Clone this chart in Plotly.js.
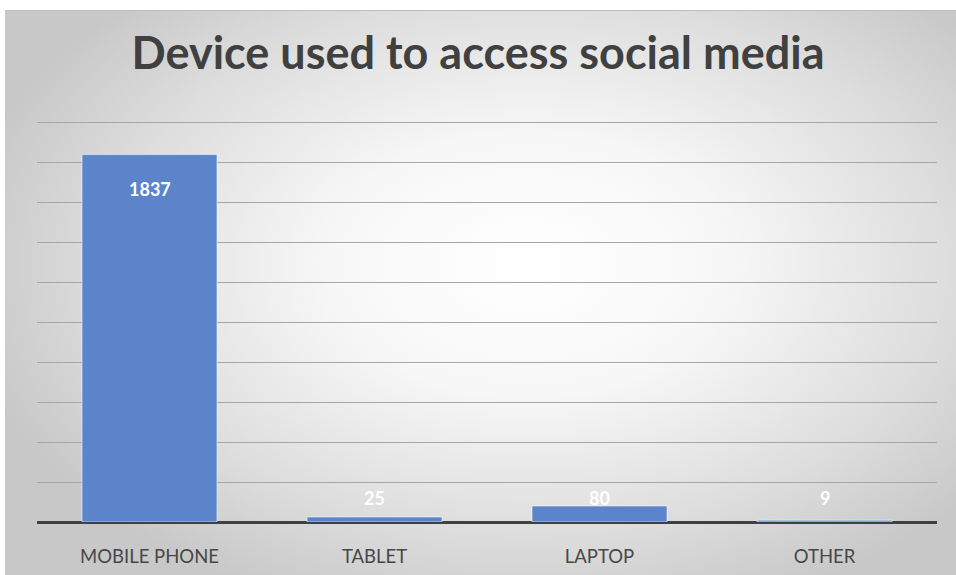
<!DOCTYPE html>
<html>
<head>
<meta charset="utf-8">
<script src="https://cdn.plot.ly/plotly-3.0.1.min.js"></script>
<style>
  html, body { margin:0; padding:0; background:#ffffff; }
  #bg { position:absolute; left:5px; top:10px; width:951px; height:565px;
        background: radial-gradient(ellipse 60% 65% at 55% 45%, #ffffff 0%, #f7f7f7 35%, #dcdcdc 75%, #c8c8c8 100%);
        border-top:1px solid #bdbdbd; box-sizing:border-box; }
  #chart { position:absolute; left:0; top:0; width:956px; height:575px; }
</style>
</head>
<body>
<div id="bg"></div>
<div id="chart"></div>
<script>
const categories = ["MOBILE PHONE", "TABLET", "LAPTOP", "OTHER"];
const values = [1837, 25, 80, 9];
const labels = ["1837", "25", "80", "9"];

const trace = {
  type: "bar",
  x: categories,
  y: values,
  marker: { color: "#5b84cb", line: { color: "rgba(255,255,255,0.55)", width: 1 } },
  hoverinfo: "x+y"
};

const annotations = categories.map((c, i) => {
  const big = values[i] > 200;
  return {
    x: c, y: big ? values[i] : 0, xref: "x", yref: "y",
    text: "<b>" + labels[i] + "</b>", showarrow: false,
    yanchor: big ? "top" : "bottom",
    yshift: big ? -21 : 11,
    font: { family: "Lato, 'Open Sans', sans-serif", size: 18, color: "#ffffff" }
  };
});

const layout = {
  width: 956, height: 575,
  paper_bgcolor: "rgba(0,0,0,0)",
  plot_bgcolor: "rgba(0,0,0,0)",
  margin: { l: 37, r: 19, t: 120, b: 53 },
  title: {
    text: "<b>Device used to access social media</b>",
    x: 0.5, xanchor: "center", y: 0.908, yanchor: "middle",
    font: { family: "Lato, 'Open Sans', sans-serif", size: 45, color: "#404040" }
  },
  bargap: 0.4,
  showlegend: false,
  xaxis: {
    type: "category",
    showgrid: false, showline: false, zeroline: false,
    ticks: "", ticklabelstandoff: 21,
    tickfont: { family: "Lato, 'Open Sans', sans-serif", size: 18.5, color: "#474747" }
  },
  yaxis: {
    range: [0, 2010], dtick: 200, showticklabels: false,
    showgrid: true, gridcolor: "#a6a6a6", gridwidth: 1,
    zeroline: true, zerolinecolor: "#404040", zerolinewidth: 3,
    showline: false, fixedrange: true
  },
  annotations: annotations
};

Plotly.newPlot("chart", [trace], layout, { displayModeBar: false, staticPlot: true });
</script>
</body>
</html>
